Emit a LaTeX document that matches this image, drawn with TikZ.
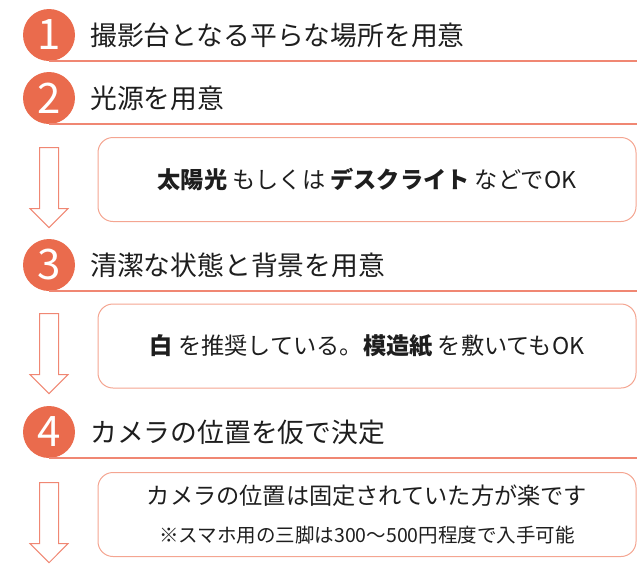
\documentclass[tikz,border=0pt]{standalone}
\usepackage{fontspec}
\setmainfont{Noto Sans CJK JP}
\usetikzlibrary{positioning,shapes.arrows,calc}
\definecolor{cStep}{RGB}{234,107,77}
\definecolor{cRule}{RGB}{240,135,115}
\definecolor{cBox}{RGB}{244,165,145}
\definecolor{cText}{RGB}{30,30,30}

\begin{document}
\begin{tikzpicture}[x=1pt, y=-1pt,
num/.style={circle, fill=cStep, minimum size=52pt, inner sep=0pt, text=white, font=\fontsize{42}{42}\selectfont},
title/.style={anchor=west, text=cText, inner sep=0pt, font=\fontsize{26.8}{30}\selectfont},
rule/.style={draw=cRule, line width=1.5pt},
note/.style={draw=cBox, line width=1pt, rounded corners=15pt, minimum width=538pt, minimum height=84pt, align=center, text=cText, font=\fontsize{23.2}{36}\selectfont},
down/.style={single arrow, draw=cRule, fill=white, line width=1pt, shape border rotate=270, minimum height=80pt, minimum width=37pt, single arrow head extend=9.5pt, single arrow tip angle=90, inner sep=9pt}]

\useasboundingbox (0,0) rectangle (638,563);

% steps
\node[num] (n1) at (49,35) {1};
\node[num] (n2) at (49,98) {2};
\node[num] (n3) at (49,265) {3};
\node[num] (n4) at (49,432) {4};

\node[title, right = 15pt of n1] (t1) {撮影台となる平らな場所を用意};
\node[title, right = 15pt of n2] (t2) {光源を用意};
\node[title, right = 15pt of n3] (t3) {清潔な状態と背景を用意};
\node[title, right = 15pt of n4] (t4) {カメラの位置を仮で決定};

% notes
\node[note] (b1) at (367,179.5) {\textbf{太陽光} もしくは \textbf{デスクライト} などでOK};
\node[note] (b2) at (367,346) {\textbf{白} を推奨している。\textbf{模造紙} を敷いてもOK};
\node[note] (b3) at (367,514.5) {カメラの位置は固定されていた方が楽です\\[2pt]
  {\fontsize{19.5}{24}\selectfont ※スマホ用の三脚は300～500円程度で入手可能}};

\draw[rule] (n1.south) -- (n1.south -| b1.east);
\draw[rule] (n2.south) -- (n2.south -| b1.east);
\draw[rule] (n3.south) -- (n3.south -| b1.east);
\draw[rule] (n4.south) -- (n4.south -| b1.east);

% arrows
\node[down, anchor=tail] (a1) at ($(n2.south)+(0,23)$) {};
\node[down, anchor=tail] (a2) at ($(n3.south)+(0,22)$) {};
\node[down, anchor=tail] (a3) at ($(n4.south)+(0,24)$) {};
\end{tikzpicture}
\end{document}
